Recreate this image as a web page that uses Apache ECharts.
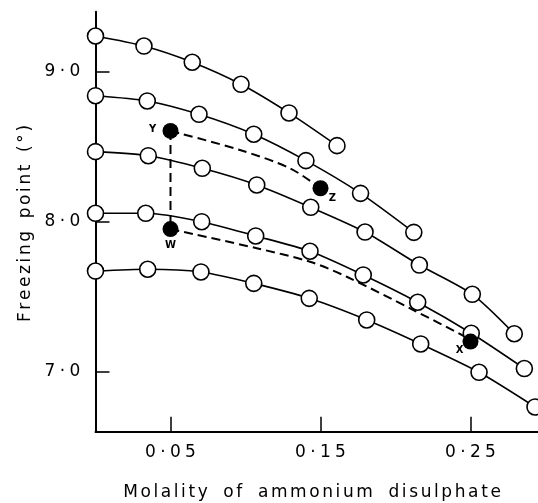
<!DOCTYPE html>
<html>
<head>
<meta charset="utf-8">
<script src="https://cdn.jsdelivr.net/npm/echarts@6/dist/echarts.min.js"></script>
<style>
html,body{margin:0;padding:0;background:#fff;}
#chart{width:538px;height:503px;}
</style>
</head>
<body>
<div id="chart"></div>
<script>
// ---- data ----
const xTickValues = [0.05, 0.15, 0.25];
const xTickLabels = ['0·05', '0·15', '0·25'];
const yTickValues = [7, 8, 9];
const yTickLabels = ['7·0', '8·0', '9·0'];
const xTitle = 'Molality of ammonium disulphate';
const yTitle = 'Freezing point (°)';

const curve1X = [0, 0.0323, 0.0645, 0.097, 0.129, 0.161];
const curve1Y = [9.238, 9.171, 9.063, 8.916, 8.725, 8.507];
const curve2X = [0, 0.0345, 0.069, 0.1055, 0.1403, 0.1767, 0.2122];
const curve2Y = [8.84, 8.805, 8.716, 8.583, 8.407, 8.189, 7.929];
const curve3X = [0, 0.0352, 0.0712, 0.1075, 0.1435, 0.1797, 0.2159, 0.2512, 0.2792];
const curve3Y = [8.467, 8.44, 8.356, 8.245, 8.096, 7.931, 7.711, 7.516, 7.253];
const curve4X = [0, 0.0335, 0.0708, 0.1068, 0.143, 0.1785, 0.2148, 0.2505, 0.2859];
const curve4Y = [8.056, 8.056, 8.0, 7.905, 7.803, 7.645, 7.463, 7.256, 7.021];
const curve5X = [0, 0.0348, 0.0703, 0.1055, 0.1425, 0.1808, 0.2168, 0.2557, 0.293];
const curve5Y = [7.671, 7.683, 7.665, 7.589, 7.489, 7.345, 7.185, 6.996, 6.765];

const markNames = ['Y', 'Z', 'W', 'X'];
const markX = [0.05, 0.15, 0.05, 0.25];
const markY = [8.605, 8.223, 7.951, 7.201];

const dashYZX = [0.05, 0.0963, 0.1297, 0.15];
const dashYZY = [8.605, 8.478, 8.356, 8.223];
const dashWXX = [0.05, 0.1075, 0.143, 0.1675, 0.2119, 0.2441, 0.25];
const dashWXY = [7.951, 7.823, 7.733, 7.633, 7.411, 7.245, 7.201];
const dashYWX = [0.05, 0.05];
const dashYWY = [8.605, 7.951];

// ---- helpers ----
const pts = (xs, ys) => xs.map((x, i) => [x, ys[i]]);
const FONT = 'DejaVu Sans';
function spaced(str, key, spaceKey) {
  return str.split('').map(ch => '{' + (ch === ' ' ? spaceKey : key) + '|' + ch + '}').join('');
}
function tickRich(v, values, labels) {
  let idx = values.findIndex(t => Math.abs(t - v) < 1e-9);
  if (idx < 0) return '';
  return labels[idx].split('').map(ch => '{' + (ch === '·' ? 'd' : 'n') + '|' + ch + '}').join('');
}
const tickRichStyles = {
  n: { width: 15, align: 'center', fontSize: 17, fontFamily: FONT, color: '#000' },
  d: { width: 10, align: 'center', fontSize: 17, fontFamily: FONT, color: '#000' }
};

const curveStyle = (xs, ys) => ({
  type: 'line',
  data: pts(xs, ys),
  smooth: 0.25,
  symbol: 'circle',
  symbolSize: 16,
  showAllSymbol: true,
  lineStyle: { color: '#000', width: 1.6 },
  itemStyle: { color: '#fff', borderColor: '#000', borderWidth: 1.6, opacity: 1 },
  emphasis: { disabled: true },
  z: 3
});
const dashStyle = (xs, ys, smooth) => ({
  type: 'line',
  data: pts(xs, ys),
  smooth: smooth,
  symbol: 'none',
  lineStyle: { color: '#000', width: 2, type: [9, 5] },
  emphasis: { disabled: true },
  z: 2
});

const labelOffsets = [[-18, -2], [12, 10], [0, 16], [-11, 9]];

const chart = echarts.init(document.getElementById('chart'), null, { renderer: 'canvas' });
chart.setOption({
  animation: false,
  backgroundColor: '#fff',
  grid: { left: 95.5, right: 0, top: 11.7, bottom: 71.3, containLabel: false, outerBoundsMode: 'none' },
  xAxis: {
    type: 'value', min: 0, max: 0.295,
    axisLine: { show: true, onZero: false, lineStyle: { color: '#000', width: 2 } },
    axisTick: { show: true, inside: true, length: 15, customValues: xTickValues, lineStyle: { color: '#000', width: 1.5 } },
    axisLabel: {
      show: true, customValues: xTickValues, margin: 12,
      formatter: v => tickRich(v, xTickValues, xTickLabels),
      rich: tickRichStyles
    },
    splitLine: { show: false }
  },
  yAxis: {
    type: 'value', min: 6.6, max: 9.4,
    axisLine: { show: true, onZero: false, lineStyle: { color: '#000', width: 2 } },
    axisTick: { show: true, inside: true, length: 14, customValues: yTickValues, lineStyle: { color: '#000', width: 1.5 } },
    axisLabel: {
      show: true, customValues: yTickValues, margin: 13,
      formatter: v => tickRich(v, yTickValues, yTickLabels),
      rich: tickRichStyles
    },
    splitLine: { show: false }
  },
  graphic: [
    {
      type: 'text', x: 312, y: 493, silent: true,
      style: {
        text: spaced(xTitle, 't', 's'),
        align: 'center', verticalAlign: 'middle',
        fontSize: 17, fontFamily: FONT, fill: '#000',
        rich: {
          t: { fontSize: 17, fontFamily: FONT, fill: '#000', padding: [0, 1.3] },
          s: { fontSize: 17, fontFamily: FONT, fill: '#000', width: 13 }
        }
      }
    },
    {
      type: 'text', x: 26, y: 223.5, rotation: Math.PI / 2, silent: true,
      style: {
        text: spaced(yTitle, 't', 's'),
        align: 'center', verticalAlign: 'middle',
        fontSize: 17, fontFamily: FONT, fill: '#000',
        rich: {
          t: { fontSize: 17, fontFamily: FONT, fill: '#000', padding: [0, 1.3] },
          s: { fontSize: 17, fontFamily: FONT, fill: '#000', width: 10 }
        }
      }
    }
  ],
  series: [
    dashStyle(dashYWX, dashYWY, false),
    dashStyle(dashYZX, dashYZY, 0.3),
    dashStyle(dashWXX, dashWXY, 0.3),
    curveStyle(curve1X, curve1Y),
    curveStyle(curve2X, curve2Y),
    curveStyle(curve3X, curve3Y),
    curveStyle(curve4X, curve4Y),
    curveStyle(curve5X, curve5Y),
    {
      type: 'scatter',
      symbol: 'circle',
      symbolSize: 16,
      itemStyle: { color: '#000', opacity: 1 },
      emphasis: { disabled: true },
      z: 6,
      data: markNames.map((n, i) => ({
        name: n,
        value: [markX[i], markY[i]],
        label: {
          show: true, position: 'inside', offset: labelOffsets[i],
          formatter: '{b}', color: '#000', fontSize: 10, fontWeight: 'bold', fontFamily: FONT
        }
      }))
    }
  ]
});
</script>
</body>
</html>
